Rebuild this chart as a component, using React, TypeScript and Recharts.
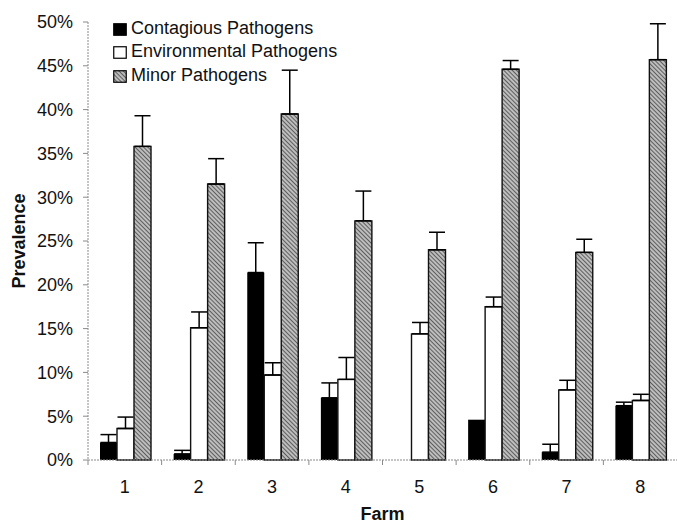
import { Bar, BarChart, ErrorBar, Legend, XAxis, YAxis } from 'recharts';

const farms = ['1', '2', '3', '4', '5', '6', '7', '8'];
// prevalence in %
const contagious = [2.0, 0.7, 21.4, 7.1, 0, 4.6, 0.9, 6.2];
const contagiousErr = [0.9, 0.4, 3.4, 1.7, null, null, 0.9, 0.4];
const environmental = [3.6, 15.1, 9.7, 9.2, 14.4, 17.5, 8.0, 6.8];
const environmentalErr = [1.3, 1.8, 1.4, 2.5, 1.3, 1.1, 1.1, 0.7];
const minor = [35.8, 31.5, 39.5, 27.3, 24.0, 44.6, 23.7, 45.7];
const minorErr = [3.5, 2.9, 5.0, 3.4, 2.0, 1.0, 1.5, 4.1];
const yTicks = [0, 5, 10, 15, 20, 25, 30, 35, 40, 45, 50];

const W = 677;
const H = 525;
const Y_AXIS_W = 88;
const BAND = (W - Y_AXIS_W) / farms.length;
const FONT = '"Liberation Sans", Arial, sans-serif';
const AXIS_GRAY = '#8a8a8a';

const upOnly = (e: number | null) => (e == null ? null : [0, e]);

const data = farms.map((farm, i) => ({
  farm,
  contagious: contagious[i],
  contagiousErr: upOnly(contagiousErr[i]),
  environmental: environmental[i],
  environmentalErr: upOnly(environmentalErr[i]),
  minor: minor[i],
  minorErr: upOnly(minorErr[i]),
}));

function Hatch({ id }: { id: string }) {
  return (
    <pattern id={id} width="3" height="3" patternUnits="userSpaceOnUse" patternTransform="rotate(-45)">
      <rect width="3" height="3" fill="#bdbdbd" />
      <line x1="0" y1="0" x2="0" y2="3" stroke="#2a2a2a" strokeWidth="1.3" />
    </pattern>
  );
}

function FarmTick({ x, y, payload }: any) {
  const axisY = y - 20;
  return (
    <g>
      <line x1={x - BAND / 2} y1={axisY} x2={x - BAND / 2} y2={axisY + 5} stroke={AXIS_GRAY} />
      <text x={x} y={y} dy="0.71em" textAnchor="middle" fontSize={18} fontFamily={FONT} fill="#111">
        {payload.value}
      </text>
    </g>
  );
}

const legendItems = [
  { key: 'c', label: 'Contagious Pathogens' },
  { key: 'e', label: 'Environmental Pathogens' },
  { key: 'm', label: 'Minor Pathogens' },
];

function Swatch({ kind }: { kind: string }) {
  return (
    <svg width="14" height="13" style={{ marginRight: 4, marginTop: 2 }}>
      <defs>
        <Hatch id="legendHatch" />
      </defs>
      <rect
        x="0.75"
        y="0.75"
        width="12.5"
        height="11.5"
        fill={kind === 'c' ? '#000' : kind === 'e' ? '#fff' : 'url(#legendHatch)'}
        stroke="#000"
        strokeWidth="1.2"
      />
    </svg>
  );
}

function renderLegend() {
  return (
    <div style={{ fontFamily: FONT, fontSize: 18, color: '#111' }}>
      {legendItems.map((it) => (
        <div key={it.key} style={{ display: 'flex', alignItems: 'center', height: 23.3, whiteSpace: 'nowrap' }}>
          <Swatch kind={it.key} />
          {it.label}
        </div>
      ))}
    </div>
  );
}

export default function App() {
  return (
    <div style={{ position: 'absolute', left: 0, top: 0, background: '#fff' }}>
      <BarChart
        width={W}
        height={H}
        data={data}
        margin={{ top: 22, right: 0, bottom: 0, left: 0 }}
        barCategoryGap={12}
        barGap={0}
      >
        <defs>
          <Hatch id="minorHatch" />
        </defs>
        <XAxis
          dataKey="farm"
          height={65}
          tickSize={0}
          tickMargin={20}
          tickLine={false}
          tick={<FarmTick />}
          axisLine={{ stroke: AXIS_GRAY, strokeDasharray: '2 1' }}
          label={{
            value: 'Farm',
            position: 'insideBottom',
            offset: 5,
            style: { fontFamily: FONT, fontSize: 18, fontWeight: 'bold', fill: '#111' },
          }}
        />
        <YAxis
          width={Y_AXIS_W}
          domain={[0, 50]}
          ticks={yTicks}
          interval={0}
          tickFormatter={(v: number) => `${v}%`}
          tickSize={5}
          tickMargin={10}
          tick={{ fontFamily: FONT, fontSize: 18, fill: '#111' }}
          tickLine={{ stroke: AXIS_GRAY }}
          axisLine={{ stroke: AXIS_GRAY, strokeDasharray: '2 1' }}
          label={{
            value: 'Prevalence',
            angle: -90,
            position: 'center',
            dx: -25,
            style: { fontFamily: FONT, fontSize: 18, fontWeight: 'bold', fill: '#111', textAnchor: 'middle' },
          }}
        />
        <Legend
          content={renderLegend}
          layout="vertical"
          align="center"
          verticalAlign="middle"
          wrapperStyle={{ top: 17, left: 113, width: 'auto', height: 'auto' }}
        />
        <Bar dataKey="contagious" fill="#000" isAnimationActive={false}>
          <ErrorBar dataKey="contagiousErr" width={8} stroke="#000" strokeWidth={1.5} isAnimationActive={false} />
        </Bar>
        <Bar dataKey="environmental" fill="#fff" stroke="#111" strokeWidth={1.4} isAnimationActive={false}>
          <ErrorBar dataKey="environmentalErr" width={8} stroke="#000" strokeWidth={1.5} isAnimationActive={false} />
        </Bar>
        <Bar dataKey="minor" fill="url(#minorHatch)" stroke="#111" strokeWidth={1.4} isAnimationActive={false}>
          <ErrorBar dataKey="minorErr" width={8} stroke="#000" strokeWidth={1.5} isAnimationActive={false} />
        </Bar>
      </BarChart>
    </div>
  );
}
